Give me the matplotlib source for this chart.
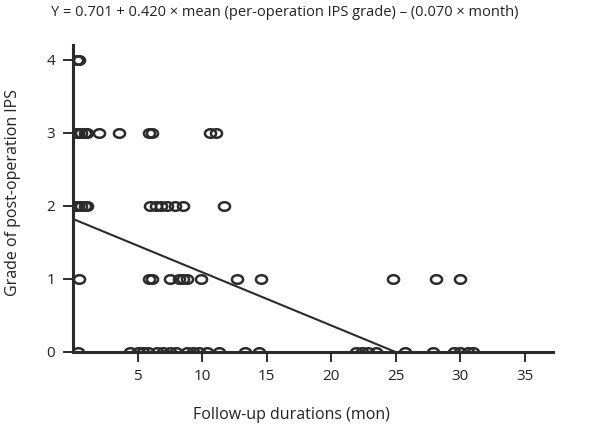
import numpy as np
import matplotlib
matplotlib.use("Agg")
import matplotlib.pyplot as plt
from matplotlib.path import Path

# follow-up months of each patient, grouped by post-operation IPS grade
months_g4 = [0.3, 0.5]
months_g3 = [0.2, 0.4, 0.6, 0.9, 1.1, 2.0, 3.6, 5.9, 6.1, 10.6, 11.1]
months_g2 = [0.2, 0.4, 0.6, 0.9, 1.1, 6.0, 6.4, 6.8, 7.3, 7.9, 8.5, 11.7]
months_g1 = [0.5, 5.9, 6.1, 7.5, 8.2, 8.5, 8.8, 9.9, 12.7, 14.6, 24.8, 28.1, 30.0]
months_g0 = [0.4, 4.4, 5.0, 5.4, 5.8, 6.5, 7.0, 7.5, 8.0, 8.8, 9.3, 9.8, 10.4,
             11.3, 13.3, 14.4, 21.9, 22.4, 22.9, 23.5, 25.7, 27.9, 29.5, 30.0,
             30.6, 31.0]

# regression line end points (month, grade)
fit_x = [0, 25]
fit_y = [1.82, 0]

x_ticks = [5, 10, 15, 20, 25, 30, 35]
y_ticks = [0, 1, 2, 3, 4]

title = "Y = 0.701 + 0.420 \u00d7 mean (per-operation IPS grade) \u2013 (0.070 \u00d7 month)"

plt.rcParams['font.family'] = ['Open Sans', 'DejaVu Sans']

# slightly flattened circle, as in the printed figure
t = np.linspace(0, 2 * np.pi, 60)
ellipse = Path(np.column_stack([1.3 * np.cos(t), np.sin(t)]), closed=True)

fig = plt.figure(figsize=(5.94, 4.30), dpi=100)
ax = fig.add_axes([0.1229, 0.1814, 0.808, 0.7139])

ink = "#2b2b2b"
groups = [(months_g0, 0), (months_g1, 1), (months_g2, 2), (months_g3, 3), (months_g4, 4)]
for months, grade in groups:
    ax.plot(months, [grade] * len(months), linestyle="none", marker=ellipse,
            ms=8, mfc="none", mec=ink, mew=1.8)

ax.plot(fit_x, fit_y, color=ink, lw=1.5)

ax.set_xlim(0, 37.2)
ax.set_ylim(0, 4.2)
ax.set_xticks(x_ticks)
ax.set_yticks(y_ticks)
ax.tick_params(axis="both", direction="out", length=7, width=1.4, color=ink,
               labelsize=11, labelcolor="#222222")
ax.tick_params(axis="x", pad=5)
ax.tick_params(axis="y", pad=6)

for side in ["top", "right"]:
    ax.spines[side].set_visible(False)
for side in ["left", "bottom"]:
    ax.spines[side].set_linewidth(2.2)
    ax.spines[side].set_color(ink)

ax.set_ylabel("Grade of post-operation IPS", fontsize=11.5, color="#222222")
ax.yaxis.set_label_coords(-0.108, 0.52)
ax.set_xlabel("Follow-up durations (mon)", fontsize=11.5, color="#222222")
ax.xaxis.set_label_coords(0.455, -0.18)

fig.text(0.48, 0.97, title, ha="center", va="center", fontsize=10.5, color="#222222")

fig.savefig("out.png", dpi=100)
